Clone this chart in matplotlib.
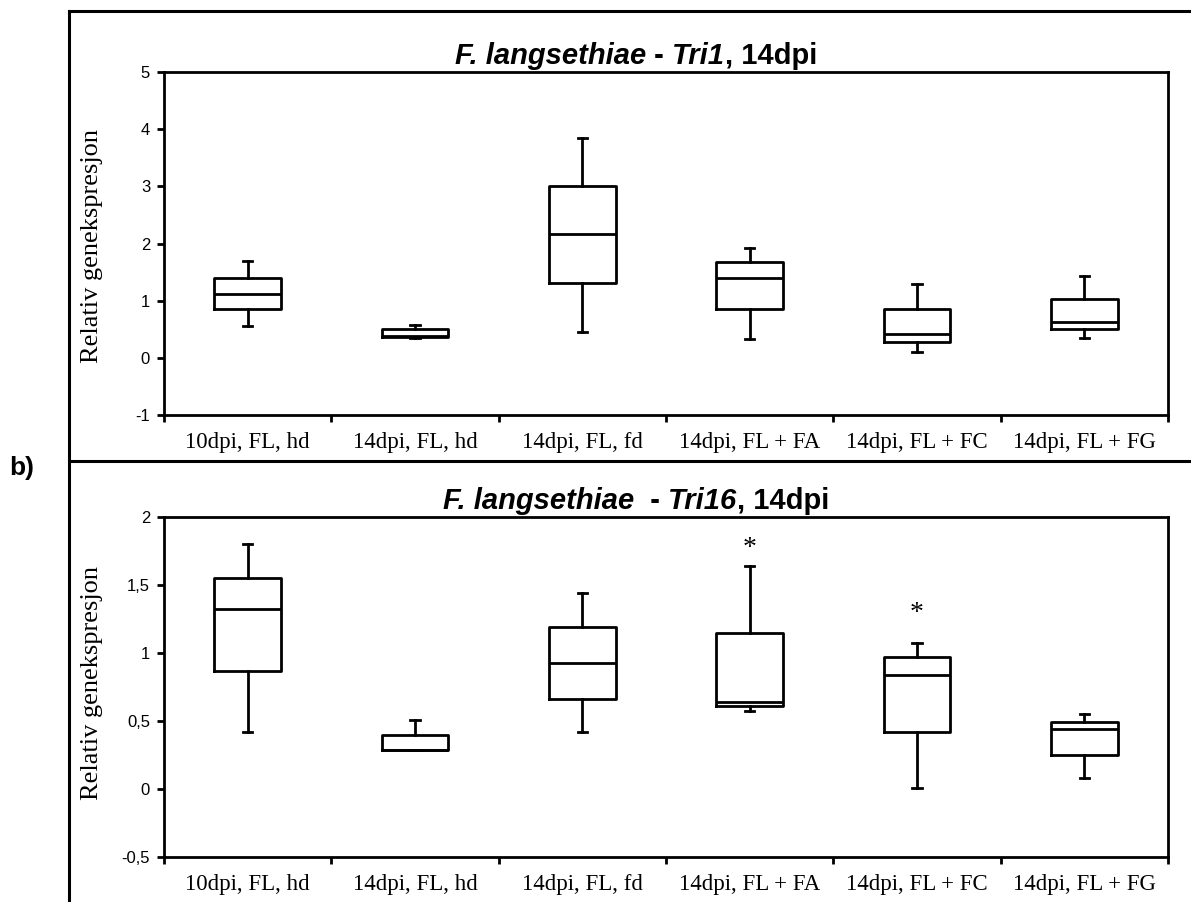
import matplotlib.pyplot as plt
from matplotlib.lines import Line2D
from matplotlib.ticker import FuncFormatter, FixedLocator

kategorier = ["10dpi, FL, hd", "14dpi, FL, hd", "14dpi, FL, fd",
              "14dpi, FL + FA", "14dpi, FL + FC", "14dpi, FL + FG"]

# Tri1 (øverste panel)
tri1_min = [0.56, 0.34, 0.45, 0.33, 0.10, 0.34]
tri1_q1 = [0.86, 0.37, 1.31, 0.86, 0.27, 0.50]
tri1_med = [1.12, 0.38, 2.16, 1.39, 0.41, 0.62]
tri1_q3 = [1.39, 0.50, 3.00, 1.67, 0.86, 1.03]
tri1_max = [1.70, 0.58, 3.85, 1.93, 1.30, 1.43]

# Tri16 (nederste panel)
tri16_min = [0.42, 0.29, 0.42, 0.57, 0.01, 0.08]
tri16_q1 = [0.87, 0.29, 0.66, 0.61, 0.42, 0.25]
tri16_med = [1.32, 0.29, 0.93, 0.64, 0.84, 0.44]
tri16_q3 = [1.55, 0.40, 1.19, 1.15, 0.97, 0.49]
tri16_max = [1.80, 0.51, 1.44, 1.64, 1.07, 0.55]

stjerne_x = [4, 5]
stjerne_y = [1.81, 1.33]

W, H = 1191, 902
fig = plt.figure(figsize=(W / 100, H / 100), dpi=100)


def lag_stats(lo, q1, med, q3, hi):
    return [dict(whislo=a, q1=b, med=c, q3=d, whishi=e)
            for a, b, c, d, e in zip(lo, q1, med, q3, hi)]


def komma(v, pos):
    return f"{v:g}".replace(".", ",")


def sett_opp(ax, stats, ymin, ymax, steg):
    lw = 2
    ax.bxp(stats, positions=range(1, 7), widths=0.4, showfliers=False,
           capwidths=0.055,
           boxprops=dict(color="k", lw=lw),
           whiskerprops=dict(color="k", lw=lw),
           capprops=dict(color="k", lw=lw),
           medianprops=dict(color="k", lw=lw))
    ax.set_xlim(0.5, 6.5)
    ax.set_ylim(ymin, ymax)
    ticks = []
    v = ymin
    while v <= ymax + 1e-9:
        ticks.append(round(v, 3))
        v += steg
    ax.set_yticks(ticks)
    ax.yaxis.set_major_formatter(FuncFormatter(komma))
    ax.xaxis.set_major_locator(FixedLocator([0.5 + i for i in range(7)]))
    ax.xaxis.set_minor_locator(FixedLocator(range(1, 7)))
    ax.set_xticklabels([], minor=False)
    ax.set_xticklabels(kategorier, minor=True, family="Liberation Serif", fontsize=16.5)
    ax.tick_params(axis="x", which="major", direction="out", length=5, width=2)
    ax.tick_params(axis="x", which="minor", length=0, pad=12)
    ax.tick_params(axis="y", direction="out", length=5, width=2, pad=5,
                   labelsize=12)
    for t in ax.get_yticklabels():
        t.set_family("Liberation Sans")
    for s in ax.spines.values():
        s.set_linewidth(2)


def tittel(deler, baseline_px, midt_px):
    renderer = fig.canvas.get_renderer()
    tekster = []
    for tekst, stil in deler:
        t = fig.text(0, 1 - baseline_px / H, tekst, fontsize=21, fontweight="bold",
                     style=stil, family="Liberation Sans", va="baseline", ha="left")
        tekster.append(t)
    bredder = [t.get_window_extent(renderer).width for t in tekster]
    x = midt_px - sum(bredder) / 2
    for t, b in zip(tekster, bredder):
        t.set_x(x / W)
        x += b


ax1 = fig.add_axes([164 / W, 1 - 415 / H, 1004 / W, 343 / H])
sett_opp(ax1, lag_stats(tri1_min, tri1_q1, tri1_med, tri1_q3, tri1_max), -1, 5, 1)

ax2 = fig.add_axes([164 / W, 1 - 857 / H, 1004 / W, 340 / H])
sett_opp(ax2, lag_stats(tri16_min, tri16_q1, tri16_med, tri16_q3, tri16_max), -0.5, 2, 0.5)

for x, y in zip(stjerne_x, stjerne_y):
    ax2.annotate("*", (x, y), xytext=(0, -4), textcoords="offset points",
                 family="Liberation Serif", fontsize=20, ha="center", va="center")

# y-akse titler
fig.text(92 / W, 1 - 246 / H, "Relativ genekspresjon", rotation=90, family="Liberation Serif",
         fontsize=19, ha="center", va="center")
fig.text(92 / W, 1 - 683 / H, "Relativ genekspresjon", rotation=90, family="Liberation Serif",
         fontsize=19, ha="center", va="center")

tittel([("F. langsethiae", "italic"), (" - ", "normal"), ("Tri1", "italic"),
        (", 14dpi", "normal")], 64, 636)
tittel([("F. langsethiae", "italic"), ("  - ", "normal"), ("Tri16", "italic"),
        (", 14dpi", "normal")], 509, 636)

# ramme
fig.add_artist(Line2D([69 / W, 69 / W], [0, 1 - 11 / H], color="k", lw=2.2, transform=fig.transFigure))
fig.add_artist(Line2D([69 / W, 1], [1 - 11 / H, 1 - 11 / H], color="k", lw=2.2, transform=fig.transFigure))
fig.add_artist(Line2D([69 / W, 1], [1 - 461 / H, 1 - 461 / H], color="k", lw=2.2, transform=fig.transFigure))

fig.text(22 / W, 1 - 468 / H, "b)", fontsize=19, fontweight="bold", family="Liberation Sans",
         ha="center", va="center")

fig.savefig("out.png", dpi=100)
